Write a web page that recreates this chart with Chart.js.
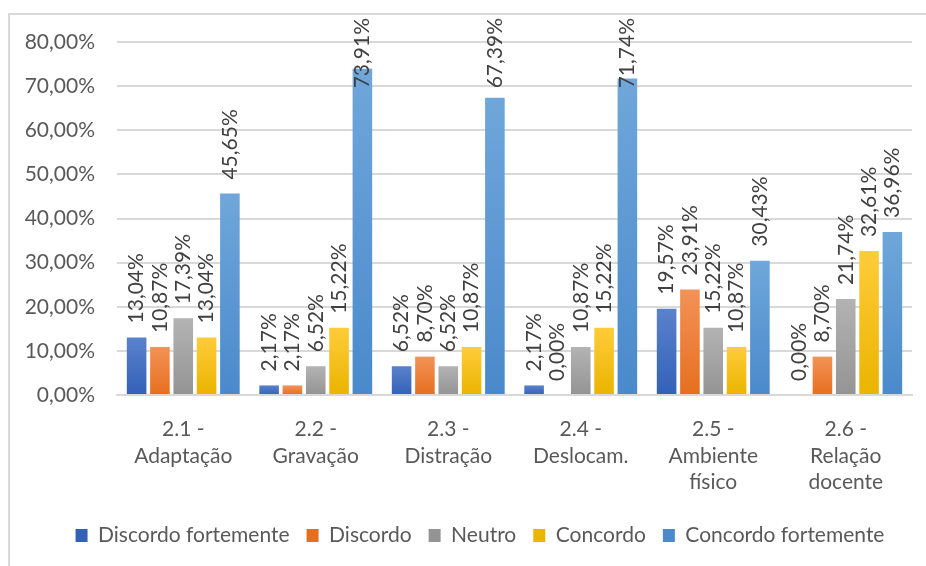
<!DOCTYPE html>
<html lang="pt">
<head>
<meta charset="utf-8">
<title>Avaliação - questões 2.1 a 2.6</title>
<script src="https://cdn.jsdelivr.net/npm/chart.js@4/dist/chart.umd.min.js"></script>
<style>
    html, body { margin: 0; padding: 0; background: #ffffff; }
    #grafico { width: 926px; height: 566px; position: relative; }
</style>
</head>
<body>
<div id="grafico"><canvas id="avaliacaoChart"></canvas></div>
<script>
// Categorias (questões)
const categorias = [
    ['2.1 -', 'Adaptação'],
    ['2.2 -', 'Gravação'],
    ['2.3 -', 'Distração'],
    ['2.4 -', 'Deslocam.'],
    ['2.5 -', 'Ambiente', 'físico'],
    ['2.6 -', 'Relação', 'docente']
];

// Percentuais de cada resposta
const discordoFortemente = [13.04, 2.17, 6.52, 2.17, 19.57, 0.00];
const discordo = [10.87, 2.17, 8.70, 0.00, 23.91, 8.70];
const neutro = [17.39, 6.52, 6.52, 10.87, 15.22, 21.74];
const concordo = [13.04, 15.22, 10.87, 15.22, 10.87, 32.61];
const concordoFortemente = [45.65, 73.91, 67.39, 71.74, 30.43, 36.96];

// Eixo Y
const yTicks = [0, 10, 20, 30, 40, 50, 60, 70, 80];

const FONTE = 'Lato, "Liberation Sans", sans-serif';
const COR_TEXTO = '#595959';

// Cores (topo claro, base escura)
const cores = [
    ['#5a82cc', '#3361b8'],
    ['#f39257', '#e66f1f'],
    ['#b3b3b3', '#949494'],
    ['#ffcc3a', '#eab400'],
    ['#6fa7da', '#4a89cb']
];

function formatoPct(v) {
    return v.toFixed(2).replace('.', ',') + '%';
}

// Gradiente vertical por barra
function gradienteBarra(indice) {
    return function(context) {
        const chart = context.chart;
        const y = chart.scales.y;
        if (!chart.chartArea || !y || context.parsed === undefined) {
            return cores[indice][1];
        }
        const topo = y.getPixelForValue(context.parsed.y);
        const base = y.getPixelForValue(0);
        if (base - topo < 1) {
            return cores[indice][1];
        }
        const g = chart.ctx.createLinearGradient(0, topo, 0, base);
        g.addColorStop(0, cores[indice][0]);
        g.addColorStop(1, cores[indice][1]);
        return g;
    };
}

// Moldura (apenas topo e esquerda visíveis)
const moldura = {
    id: 'moldura',
    beforeDraw(chart) {
        const ctx = chart.ctx;
        ctx.save();
        ctx.strokeStyle = '#d9d9d9';
        ctx.lineWidth = 2;
        ctx.beginPath();
        ctx.moveTo(9, chart.height);
        ctx.lineTo(9, 14);
        ctx.lineTo(chart.width, 14);
        ctx.stroke();
        ctx.restore();
    }
};

// Desloca a legenda um pouco para a direita
const legendaDeslocada = {
    id: 'legendaDeslocada',
    afterLayout(chart) {
        if (chart.legend) {
            chart.legend.left += 24;
            chart.legend.right += 24;
        }
    }
};

// Rótulos de valores rotacionados acima das barras
const rotulos = {
    id: 'rotulos',
    afterDatasetsDraw(chart) {
        const ctx = chart.ctx;
        ctx.save();
        ctx.font = '21px ' + FONTE;
        ctx.fillStyle = '#404040';
        ctx.textAlign = 'left';
        ctx.textBaseline = 'middle';
        chart.data.datasets.forEach((ds, i) => {
            const meta = chart.getDatasetMeta(i);
            meta.data.forEach((bar, j) => {
                const texto = formatoPct(ds.data[j]);
                const largura = ctx.measureText(texto).width;
                let y = bar.y - 14;
                if (y - largura < 18) {
                    y = 18 + largura;
                }
                ctx.save();
                ctx.translate(bar.x, y);
                ctx.rotate(-Math.PI / 2);
                ctx.fillText(texto, 0, 0);
                ctx.restore();
            });
        });
        ctx.restore();
    }
};

const series = [
    ['Discordo fortemente', discordoFortemente],
    ['Discordo', discordo],
    ['Neutro', neutro],
    ['Concordo', concordo],
    ['Concordo fortemente', concordoFortemente]
];

const ctx = document.getElementById('avaliacaoChart').getContext('2d');

new Chart(ctx, {
    type: 'bar',
    data: {
        labels: categorias,
        datasets: series.map((s, i) => ({
            label: s[0],
            data: s[1],
            backgroundColor: gradienteBarra(i),
            borderWidth: 0,
            categoryPercentage: 0.88,
            barPercentage: 0.84
        }))
    },
    options: {
        responsive: true,
        maintainAspectRatio: false,
        animation: false,
        layout: {
            padding: { top: 42, right: 14, bottom: 10, left: 0 }
        },
        plugins: {
            legend: {
                position: 'bottom',
                labels: {
                    boxWidth: 12,
                    boxHeight: 13,
                    padding: 17,
                    color: COR_TEXTO,
                    font: { family: FONTE, size: 21 },
                    generateLabels(chart) {
                        return chart.data.datasets.map((ds, i) => ({
                            text: ds.label,
                            fillStyle: cores[i][1],
                            strokeStyle: cores[i][1],
                            lineWidth: 0,
                            fontColor: COR_TEXTO,
                            datasetIndex: i
                        }));
                    }
                }
            },
            tooltip: { enabled: false }
        },
        scales: {
            x: {
                grid: { display: false, drawTicks: false },
                border: { display: true, color: '#d9d9d9', width: 2 },
                ticks: {
                    color: COR_TEXTO,
                    padding: 21,
                    maxRotation: 0,
                    autoSkip: false,
                    font: { family: FONTE, size: 21, lineHeight: 1.27 }
                },
                afterFit(scale) {
                    scale.height = 113;
                }
            },
            y: {
                min: 0,
                max: 80,
                afterBuildTicks(scale) {
                    scale.ticks = yTicks.map(v => ({ value: v }));
                },
                grid: { color: '#d9d9d9', lineWidth: 2, drawTicks: false },
                border: { display: false },
                ticks: {
                    color: COR_TEXTO,
                    padding: 22,
                    font: { family: FONTE, size: 21 },
                    callback: v => formatoPct(v)
                },
                afterFit(scale) {
                    scale.width = 117;
                }
            }
        }
    },
    plugins: [moldura, legendaDeslocada, rotulos]
});
</script>
</body>
</html>
